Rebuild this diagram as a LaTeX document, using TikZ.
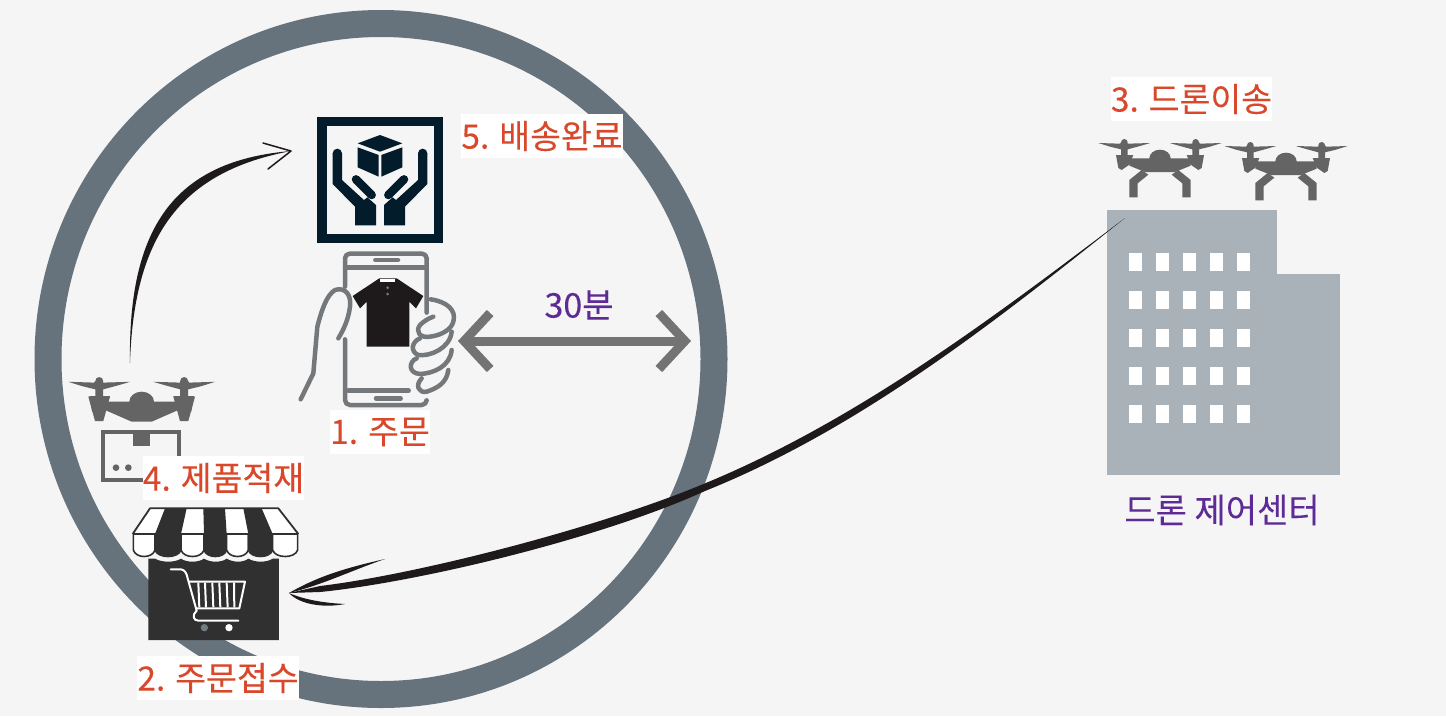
\documentclass[tikz,border=0pt]{standalone}
\usepackage{fontspec}
\setmainfont{Noto Sans CJK KR}[FakeBold=0.2]
\usetikzlibrary{arrows.meta,calc}
\definecolor{bgc}{HTML}{F5F5F5}
\definecolor{ringc}{HTML}{66737C}
\definecolor{labc}{HTML}{D9482B}
\definecolor{purp}{HTML}{5E2A96}
\definecolor{navy}{HTML}{021C2C}
\definecolor{phonec}{HTML}{75787B}
\definecolor{dronec}{HTML}{646464}
\definecolor{storec}{HTML}{303030}
\definecolor{bldc}{HTML}{A8B2B8}
\definecolor{swoop}{HTML}{1E1A1B}
\tikzset{
  steplabel/.style={fill=white,text=labc,font=\fontsize{33.5}{34}\selectfont,inner sep=0pt,minimum height=44pt,anchor=center},
  purplabel/.style={text=purp,font=\fontsize{34}{34}\selectfont,inner sep=0pt},
  phoneline/.style={draw=phonec,line width=4.5pt,line cap=round,line join=round},
  winbox/.style={fill=white},
  zoomone/.style={shift={(280,90)},x=.33333pt,y=-.33333pt},
  zoomtwo/.style={shift={(50,360)},x=.33333pt,y=-.33333pt},
}
\newcommand\droneRotors{%
  \foreach \s in {-1,1}{
    \begin{scope}[xscale=\s]
      \fill[dronec] (-185,-3)--(-120,-1)--(-117,-5) arc (180:360:10)--(-97,-1)--(-29,-3)--(-60,6)--(-97,16)--(-97,33)--(-80,33)--(-92,62)--(-115,78)--(-125,72)--(-132,33)--(-117,33)--(-117,16)--(-150,8)--cycle;
    \end{scope}}}
\newcommand\droneTop{%
  \droneRotors
  \fill[dronec] (-92,43)--(-32,43) arc (180:360:32 and 26)--(92,43)--(92,65)--(45,84)--(-45,84)--(-92,65)--cycle;
  \fill[dronec] (-55,78)--(-92,108)--(-92,160)--(-67,160)--(-67,118)--(-35,92)--cycle;
  \fill[dronec] (55,78)--(92,108)--(92,160)--(67,160)--(67,118)--(35,92)--cycle;}
\begin{document}
\begin{tikzpicture}[x=1pt,y=-1pt]
\useasboundingbox (0,0) rectangle (1446,716);
\fill[bgc] (0,0) rectangle (1446,716);
% ring
\draw[ringc,line width=27pt] (381,359) ellipse [x radius=333,y radius=335.5];
% building
\fill[bldc] (1107,210) rectangle (1277,475);
\fill[bldc] (1277,274) rectangle (1340,475);
\foreach \wy in {253,291,329,367,405}
  \foreach \wx in {1129,1156,1183,1210,1237}
    \fill[winbox] (\wx,\wy) rectangle +(13,18);
\node[purplabel] (center) at (1222,510) {드론 제어센터};
% top drones
\begin{scope}[shift={(1160,144)},x=.33333pt,y=-.33333pt]\droneTop\end{scope}
\begin{scope}[shift={(1286,147)},x=.33333pt,y=-.33333pt]\droneTop\end{scope}
% left drone
\begin{scope}[shift={(141.7,383)},x=.3967pt,y=-.3967pt]\droneRotors\end{scope}
\begin{scope}[zoomtwo]
  \fill[dronec] (165,125)--(238,125) arc (180:360:37 and 30)--(385,125)--(385,150)--(305,185)--(245,185)--(165,150)--cycle;
  \fill[dronec] (115,110)--(180,110)--(160,183)--(135,183)--cycle;
  \fill[dronec] (435,110)--(370,110)--(390,183)--(415,183)--cycle;
  \draw[dronec,line width=4pt] (160,215) rectangle (388,360);
  \fill[dronec] (250,215) rectangle (300,258);
  \fill[dronec] (198,323) circle (10) (235,323) circle (10);
\end{scope}
% delivery icon
\fill[navy] (317,117) rectangle (443,243);
\fill[bgc] (327,126) rectangle (434,234);
\begin{scope}[zoomone]
  \fill[navy] (300,135)--(367,160)--(300,185)--(233,160)--cycle;
  \fill[navy] (233,172)--(296,195)--(296,260)--(233,232)--cycle;
  \fill[navy] (304,195)--(367,172)--(367,232)--(304,260)--cycle;
  \foreach \s in {1,-1}{
  \begin{scope}[shift={(300,0)},xscale=\s]
    \fill[navy] (-142,190)--(-114,190)--(-114,270)--(-48,330)--(-38,322)--(-12,345)--(-12,406)--(-75,406)--(-75,350)--(-142,282)--cycle;
    \fill[navy] (-128,190) circle (14);
    \draw[navy,line width=8.5pt,line cap=round] (-72,268)--(-25,315);
  \end{scope}}
  % phone
  \draw[phoneline] (195,590)--(195,505) arc (180:270:14) -- (426,491) arc (270:360:14) -- (440,668);
  \draw[phoneline] (195,533)--(440,533);
  \draw[phoneline] (286,510)--(354,510);
  \draw[phoneline,rounded corners=5pt] (195,748)--(195,945)--(440,945)--(440,932);
  \draw[phoneline] (205,902)--(386,902);
  \draw[phoneline] (288,925)--(362,925);
  % hand
  \draw[phoneline] (62,928)--(100,850)--(112,710) .. controls (125,660) and (140,615) .. (165,600) .. controls (195,590) and (215,615) .. (210,650) .. controls (205,690) and (190,720) .. (175,745);
  \draw[phoneline] (452,628) .. controls (500,635) and (530,660) .. (520,695) .. controls (515,715) and (490,735) .. (450,740) .. controls (420,745) and (405,725) .. (420,705) .. controls (430,695) and (445,685) .. (460,680);
  \draw[phoneline] (420,745) .. controls (395,755) and (390,785) .. (415,795) .. controls (450,800) and (510,775) .. (515,725);
  \draw[phoneline] (410,805) .. controls (385,815) and (385,850) .. (420,852) .. controls (460,850) and (510,830) .. (515,780);
  \draw[phoneline] (425,865) .. controls (405,885) and (415,910) .. (440,905) .. controls (470,895) and (500,880) .. (505,840);
  % shirt
  \fill[swoop] (298,565)--(350,565)--(430,618)--(408,655)--(388,635)--(388,770)--(260,770)--(260,635)--(240,655)--(218,618)--cycle;
  \fill[white] (300,566) rectangle (346,577);
  \fill[phonec] (323,593) circle (4.5) (323,612) circle (4.5);
\end{scope}
% store
\begin{scope}[zoomtwo]
  \fill[white] (300,445)--(685,445)--(745,522)--(248,522)--cycle;
  \fill[storec] (345,445)--(410,445)--(393,522)--(315,522)--cycle;
  \fill[storec] (460,445)--(525,445)--(530,522)--(462,522)--cycle;
  \fill[storec] (580,445)--(635,445)--(668,522)--(595,522)--cycle;
  \foreach \a/\b/\c in {250/315/white,315/393/storec,393/462/white,462/530/storec,530/595/white,595/668/storec,668/743/white}
    \filldraw[draw=storec,fill=\c,line width=1.6pt,line join=round] (\a,522)--(\a,570) .. controls (\a+8,596) and (\b-8,596) .. (\b,570)--(\b,522)--cycle;
  \draw[storec,line width=1.8pt,line join=round] (248,522)--(300,445)--(685,445)--(745,522);
  \fill[storec] (295,596) -- (315,596) .. controls (335,608) and (375,608) .. (393,596) .. controls (410,608) and (445,608) .. (462,596) .. controls (480,608) and (515,608) .. (530,596) .. controls (550,608) and (580,608) .. (595,596) .. controls (615,608) and (650,608) .. (668,596) -- (687,596) -- (687,840) -- (295,840) -- cycle;
  \draw[white,line width=2pt,line cap=round,line join=round] (362,628)--(393,628) .. controls (405,630) and (410,640) .. (413,655) -- (440,752) .. controls (425,765) and (430,782) .. (445,782) -- (565,782);
  \draw[white,line width=2pt,line join=round] (415,665)--(585,665)--(568,745)--(437,745);
  \foreach \bx/\by in {445/445,465/465,487/487,508/508,530/530,552/550}
    \draw[white,line width=2pt] (\bx,668)--(\by+3,742);
  \fill[bldc!70!black] (463,803) circle (11);
  \fill[white] (537,803) circle (11);
\end{scope}
% anchor coordinates for connectors
\coordinate (orderHand) at (458,341);
\coordinate (ringEdge) at (691,341);
\coordinate (centerTop) at (1125,218);
\coordinate (storeSide) at (289,593);
\coordinate (barbUp) at (385,559);
\coordinate (barbDown) at (345,604);
\coordinate (droneTopPt) at (130,363);
\coordinate (boxSide) at (291,151);
\coordinate (barbA) at (263,143);
\coordinate (barbB) at (268,169);
% 30 min arrow
\draw[{Straight Barb[length=26pt,width=56pt,line width=9pt]}-{Straight Barb[length=26pt,width=56pt,line width=9pt]},draw=black!55,line width=9pt] (orderHand) -- (ringEdge);
\node[purplabel] (minutes) at (579,305) {30분};
% long swoosh
\fill[swoop] (centerTop) .. controls (999,313) and (858,421) .. (701,485) .. controls (600,527) and (420,574) .. (320,586) -- (storeSide) -- (320,592) .. controls (420,582) and (602,538) .. (705,491) .. controls (862,428) and (1001,317) .. (centerTop) -- cycle;
\fill[swoop] (storeSide) .. controls (320,575) and (350,567) .. (barbUp) .. controls (350,571) and (325,584) .. (storeSide) -- cycle;
\fill[swoop] (storeSide) .. controls (305,600) and (325,603) .. (barbDown) .. controls (325,608) and (300,605) .. (storeSide) -- cycle;
% upper swoosh
\fill[swoop] (droneTopPt) .. controls (128,230) and (172,161) .. (boxSide) .. controls (180,172) and (134,236) .. (droneTopPt) -- cycle;
\draw[swoop,line width=1.5pt,line cap=round,line join=round] (barbA) -- (boxSide) -- (barbB);
% labels
\node[steplabel,minimum width=161pt] (s3) at (1191.5,99) {3. 드론이송};
\node[steplabel,minimum width=160pt] (s5) at (542,136) {5. 배송완료};
\node[steplabel,minimum width=100pt] (s1) at (380,432) {1. 주문};
\node[steplabel,minimum width=161pt] (s4) at (223.5,478) {4. 제품적재};
\node[steplabel,minimum width=161pt] (s2) at (218,678) {2. 주문접수};
\end{tikzpicture}
\end{document}
